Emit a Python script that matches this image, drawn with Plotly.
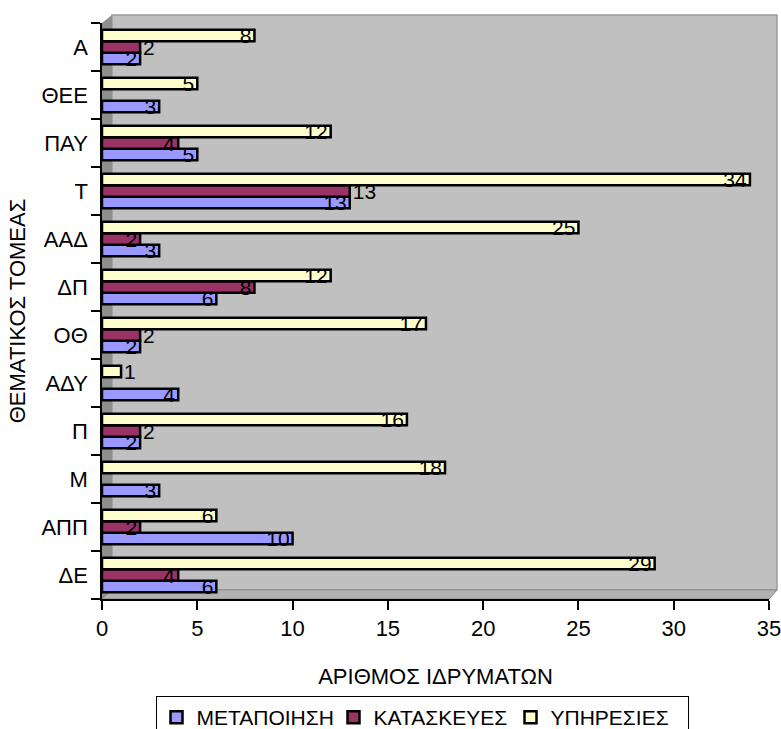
import plotly.graph_objects as go

# Thematic sectors, listed bottom to top as they appear on the axis
categories = ["ΔΕ", "ΑΠΠ", "Μ", "Π", "ΑΔΥ", "ΟΘ", "ΔΠ", "ΑΑΔ", "Τ", "ΠΑΥ", "ΘΕΕ", "Α"]

metapoiisi = [6, 10, 3, 2, 4, 2, 6, 3, 13, 5, 3, 2]
kataskeves = [4, 2, None, 2, None, 2, 8, 2, 13, 4, None, 2]
ypiresies = [29, 6, 18, 16, 1, 17, 12, 25, 34, 12, 5, 8]

series_names = ["ΜΕΤΑΠΟΙΗΣΗ", "ΚΑΤΑΣΚΕΥΕΣ", "ΥΠΗΡΕΣΙΕΣ"]
x_ticks = [0, 5, 10, 15, 20, 25, 30, 35]

# ---- styling ----
FONT = "Liberation Sans, Arial, sans-serif"
COLORS = ["#9999FF", "#993366", "#FFFFCC"]
# value labels that sit to the right of their bar (series index, category)
OUTSIDE_LABELS = {(1, "Π"), (1, "ΟΘ"), (1, "Τ"), (1, "Α"), (2, "ΑΔΥ")}

W, H = 781, 729
ML, MR, MT, MB = 102, 4, 15, 130
PW, PH = W - ML - MR, H - MT - MB
DX, DY = 10, 9  # depth of the 3D wall in pixels


def px_x(px):
    return (px - ML) / PW


front_x = [0, (PW - DX + 2) / PW]
front_y = [0, (PH - DY + 1) / PH]
back_x = [DX / PW, 1]
back_y = [DY / PH, 1]

fig = go.Figure()

values = [metapoiisi, kataskeves, ypiresies]
for i, (name, vals) in enumerate(zip(series_names, values)):
    positions = ["outside" if (i, c) in OUTSIDE_LABELS else "inside" for c in categories]
    fig.add_trace(go.Bar(
        name=name,
        y=categories,
        x=vals,
        orientation="h",
        xaxis="x2",
        yaxis="y2",
        marker=dict(color=COLORS[i], line=dict(color="black", width=2.5)),
        text=[("" if v is None else str(v)) for v in vals],
        textposition=positions,
        textangle=0,
        insidetextanchor="end",
        constraintext="none",
        textfont=dict(family=FONT, size=21, color="black"),
        cliponaxis=False,
        hoverinfo="x+y+name",
    ))

# Grey back wall, side wall and floor of the 3D frame
x0f, x1f = front_x
y0f, y1f = front_y
x0b, x1b = back_x
y0b, y1b = back_y
shapes = [
    dict(type="rect", xref="paper", yref="paper", x0=x0b, x1=x1b, y0=y0b, y1=y1b,
         fillcolor="#C0C0C0", line=dict(color="#9A9A9A", width=1.5), layer="below"),
    dict(type="path", xref="paper", yref="paper",
         path=f"M{x0f},{y0f} L{x0b},{y0b} L{x0b},{y1b} L{x0f},{y1f} Z",
         fillcolor="#8E8E8E", line=dict(width=0), layer="below"),
    dict(type="path", xref="paper", yref="paper",
         path=f"M{x0f},{y0f} L{x1f},{y0f} L{x1b},{y0b} L{x0b},{y0b} Z",
         fillcolor="#B2B2B2", line=dict(color="#8A8A8A", width=1), layer="below"),
]

fig.update_layout(
    width=W, height=H,
    margin=dict(l=ML, r=MR, t=MT, b=MB, pad=0, autoexpand=False),
    paper_bgcolor="white",
    plot_bgcolor="rgba(0,0,0,0)",
    font=dict(family=FONT, size=21, color="black"),
    barmode="group",
    bargap=0.28,
    bargroupgap=0,
    shapes=shapes,
    showlegend=True,
    legend=dict(
        orientation="h",
        xref="paper", x=px_x(422), xanchor="center",
        yref="container", y=(H - 696) / H, yanchor="top",
        bordercolor="black", borderwidth=1,
        bgcolor="white",
        font=dict(family=FONT, size=21, color="black"),
        traceorder="normal",
        entrywidth=132, entrywidthmode="pixels",
        itemclick=False,
    ),
    # back wall gridlines
    xaxis=dict(domain=back_x, range=[0, 35], tickvals=x_ticks, showgrid=True,
               gridcolor="#5E5E5E", gridwidth=1.5, showticklabels=False,
               ticks="", showline=False, zeroline=False, anchor="y"),
    yaxis=dict(domain=back_y, range=[0, 1], showgrid=False, showticklabels=False,
               ticks="", showline=False, zeroline=False, anchor="x"),
    # front axes carrying the bars
    xaxis2=dict(domain=front_x, range=[0, 35], tickvals=x_ticks, showgrid=False,
                zeroline=False, showline=True, linecolor="black", linewidth=1.5,
                ticks="outside", ticklen=9, tickcolor="black", tickwidth=1.5,
                ticklabelstandoff=0, ticklabeloverflow="allow",
                tickfont=dict(family=FONT, size=22), anchor="y2",
                title=dict(text="ΑΡΙΘΜΟΣ ΙΔΡΥΜΑΤΩΝ", standoff=28,
                           font=dict(family=FONT, size=22))),
    yaxis2=dict(domain=front_y, type="category", categoryorder="array",
                categoryarray=categories, showgrid=False, zeroline=False,
                showline=True, linecolor="black", linewidth=1.5,
                ticks="outside", ticklen=9, tickcolor="black", tickwidth=1.5,
                tickson="boundaries", ticklabelstandoff=8,
                tickfont=dict(family=FONT, size=22), anchor="x2",
                title=dict(text="ΘΕΜΑΤΙΚΟΣ ΤΟΜΕΑΣ", standoff=10,
                           font=dict(family=FONT, size=22))),
)

fig.write_html("out.html")
